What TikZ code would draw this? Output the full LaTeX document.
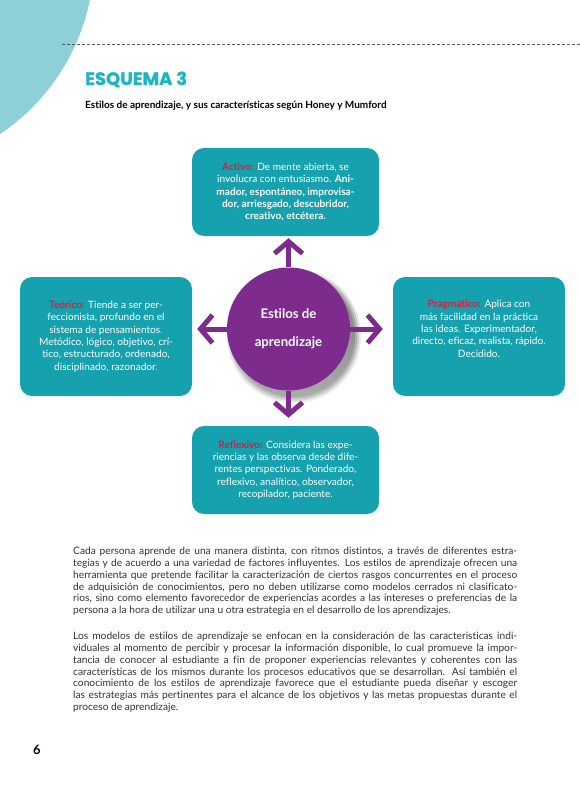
\documentclass[tikz,border=0pt]{standalone}
\usepackage{fontspec}
\setmainfont{Lato}[Ligatures={NoCommon}]
\newfontfamily\titlefont[FakeBold=1.2]{Poppins}
\usetikzlibrary{arrows.meta}
\definecolor{blob}{HTML}{8DD0D8}
\definecolor{boxteal}{HTML}{16A1AF}
\definecolor{titleteal}{HTML}{1CB5C6}
\definecolor{purp}{HTML}{7E2B8E}
\definecolor{lab}{HTML}{D3213F}
\definecolor{shade}{HTML}{B3C8E0}
\definecolor{bodytext}{HTML}{333333}
\newcommand\jline[1]{\hbox to 444pt{#1}}
\newcommand\lline[1]{\hbox{#1}}
\tikzset{
  box/.style={fill=boxteal, rounded corners=12pt, text=white, align=center,
    inner sep=0pt, font=\fontsize{10.1}{12.3}\selectfont},
  arr/.style={draw=purp, line width=5pt, -{Straight Barb[length=12pt,width=28pt]}},
  bodypar/.style={anchor=north west, inner sep=0pt, text=bodytext,
    font=\fontsize{10.2}{11.8}\selectfont},
}
\begin{document}
\begin{tikzpicture}[x=1pt,y=-1pt]
\useasboundingbox (0,0) rectangle (580,794);
\begin{scope}
  \clip (0,0) rectangle (580,794);
  \fill[blob] (-118,-42) circle (212pt);
\end{scope}
\draw[gray!70!black, line width=0.8pt, dash pattern=on 3pt off 2pt] (62,44) -- (580,44);
\node[anchor=base west, inner sep=0pt, text=titleteal, font=\titlefont\bfseries\fontsize{18}{20}\selectfont] (title) at (85,85) {ESQUEMA 3};
\node[anchor=base west, inner sep=0pt, font=\bfseries\fontsize{10}{12}\selectfont] (sub) at (85,109) {Estilos de aprendizaje, y sus características según Honey y Mumford};

% boxes
\node[box, minimum width=187pt, minimum height=88pt] (act) at (285.5,192) {\textcolor{lab}{\bfseries Activo:} De mente abierta, se\\ involucra con entusiasmo. \textbf{Ani-}\\ \textbf{mador, espontáneo, improvisa-}\\ \textbf{dor, arriesgado, descubridor,}\\ \textbf{creativo, etcétera.}};
\node[box, minimum width=172pt, minimum height=119pt] (teo) at (106,336.5) {\textcolor{lab}{\bfseries Teórico:} Tiende a ser per-\\ feccionista, profundo en el\\ sistema de pensamientos.\\ Metódico, lógico, objetivo, crí-\\ tico, estructurado, ordenado,\\ disciplinado, razonador.};
\node[box, minimum width=172pt, minimum height=119pt] (pra) at (479,336.5) {\textcolor{lab}{\bfseries Pragmático:} Aplica con\\ más facilidad en la práctica\\ las ideas. Experimentador,\\ directo, eficaz, realista, rápido.\\ Decidido.\\[3pt]};
\node[box, minimum width=187pt, minimum height=88pt] (ref) at (285.5,470) {\textcolor{lab}{\bfseries Reflexivo:} Considera las expe-\\ riencias y las observa desde dife-\\ rentes perspectivas. Ponderado,\\ reflexivo, analítico, observador,\\ recopilador, paciente.};

% soft shadow of the circle
\foreach \r/\o in {67/0.08,65/0.12,63/0.16,61/0.22} {
  \fill[shade, opacity=\o] (294,336) circle (\r pt);
}
\node[circle, fill=purp, minimum size=123pt, inner sep=0pt, text=white, align=center,
  font=\bfseries\fontsize{13.2}{28}\selectfont] (c) at (288.5,329) {Estilos de\\ aprendizaje};

% arrows
\draw[arr, shorten >=2pt] (c.north) -- (c.north |- act.south);
\draw[arr, shorten >=8pt] (c.south) -- (c.south |- ref.north);
\draw[arr, shorten >=5pt] (c.west) -- (c.west -| teo.east);
\draw[arr, shorten >=10pt] (c.east) -- (c.east -| pra.west);

% body text
\node[bodypar] (p1) at (73,547) {\vbox{%
\jline{Cada persona aprende de una manera distinta, con ritmos distintos, a través de diferentes estra-}
\jline{tegias y de acuerdo a una variedad de factores influyentes. Los estilos de aprendizaje ofrecen una}
\jline{herramienta que pretende facilitar la caracterización de ciertos rasgos concurrentes en el proceso}
\jline{de adquisición de conocimientos, pero no deben utilizarse como modelos cerrados ni clasificato-}
\jline{rios, sino como elemento favorecedor de experiencias acordes a las intereses o preferencias de la}
\lline{persona a la hora de utilizar una u otra estrategia en el desarrollo de los aprendizajes.}}};
\node[bodypar] (p2) at (73,632) {\vbox{%
\jline{Los modelos de estilos de aprendizaje se enfocan en la consideración de las caracteristicas indi-}
\jline{viduales al momento de percibir y procesar la información disponible, lo cual promueve la impor-}
\jline{tancia de conocer al estudiante a fin de proponer experiencias relevantes y coherentes con las}
\jline{características de los mismos durante los procesos educativos que se desarrollan. Así también el}
\jline{conocimiento de los estilos de aprendizaje favorece que el estudiante pueda diseñar y escoger}
\jline{las estrategias más pertinentes para el alcance de los objetivos y las metas propuestas durante el}
\lline{proceso de aprendizaje.}}};

\node[font=\bfseries\fontsize{13}{15}\selectfont, inner sep=0pt] (pg) at (37,750) {6};
\end{tikzpicture}
\end{document}
